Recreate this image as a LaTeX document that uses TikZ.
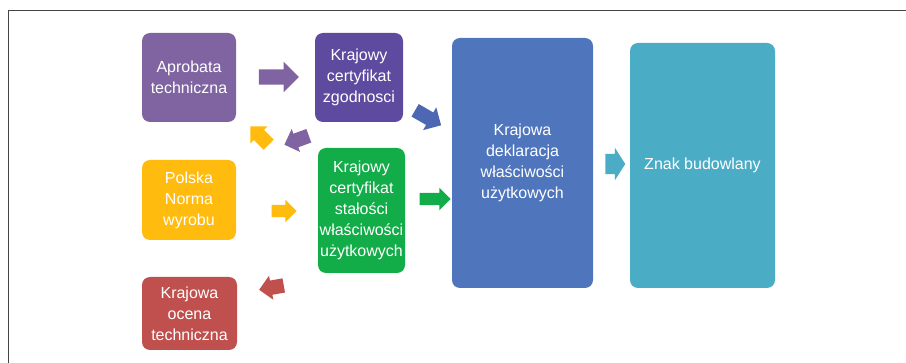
\documentclass[tikz,border=0pt]{standalone}
\usepackage{fontspec}
\setmainfont{Liberation Sans}
\usetikzlibrary{shapes.arrows}
\definecolor{cPurple}{HTML}{8064A2}
\definecolor{cIndigo}{HTML}{5E4B9F}
\definecolor{cYellow}{HTML}{FFBB0E}
\definecolor{cGreen}{HTML}{12AD48}
\definecolor{cRed}{HTML}{C0504D}
\definecolor{cBlue}{HTML}{4F76BD}
\definecolor{cArrBlue}{HTML}{4D67B3}
\definecolor{cTeal}{HTML}{4BACC6}
\definecolor{cFrame}{HTML}{444444}
\tikzset{
  boxnode/.style={rounded corners=8pt, draw=none, text=white, align=center,
    inner sep=0pt, font=\fontsize{16}{21}\selectfont},
  blockarrow/.style={single arrow, draw=none, inner xsep=0pt,
    text width=0pt, text height=0pt, text depth=0pt},
  framestyle/.style={draw=cFrame, line width=1.3pt}
}
\begin{document}
\begin{tikzpicture}[x=1pt,y=-1pt]
\useasboundingbox (0,0) rectangle (906,363);
% frame (top and left only)
\coordinate (f1) at (906,10.5);
\coordinate (f2) at (8.5,10.5);
\coordinate (f3) at (8.5,363);
\draw[framestyle] (f1) -- (f2) -- (f3);

% boxes
\node[boxnode, fill=cPurple, minimum width=94pt, minimum height=89pt] (ap) at (189,77.5) {Aprobata\\techniczna};
\node[boxnode, fill=cIndigo, minimum width=88pt, minimum height=89pt] (kz) at (359,77.5) {Krajowy\\certyfikat\\zgodnosci};
\node[boxnode, fill=cYellow, minimum width=94pt, minimum height=80pt] (pn) at (189,200) {Polska\\Norma\\wyrobu};
\node[boxnode, fill=cGreen, minimum width=87pt, minimum height=125pt] (ks) at (361.5,210.5) {Krajowy\\certyfikat\\stałości\\właściwości\\użytkowych};
\node[boxnode, fill=cRed, minimum width=95pt, minimum height=73pt] (ko) at (189.5,313.5) {Krajowa\\ocena\\techniczna};
\node[boxnode, fill=cBlue, minimum width=141pt, minimum height=250pt] (kd) at (522.5,163) {Krajowa\\deklaracja\\właściwości\\użytkowych};
\node[boxnode, fill=cTeal, minimum width=145pt, minimum height=245pt] (zb) at (702.5,165.5) {Znak budowlany};

% block arrows
\node[blockarrow, fill=cPurple, minimum height=40pt, inner ysep=7.5pt,
  single arrow head extend=7.5pt] (a1) at (275,77) {};
\node[blockarrow, fill=cArrBlue, rotate=-30, minimum height=30pt, inner ysep=7pt,
  single arrow head extend=6pt] (a2) at (425,116) {};
\node[blockarrow, fill=cYellow, rotate=135, minimum height=26pt, inner ysep=7pt,
  single arrow head extend=5pt] (a3) at (262,138) {};
\node[blockarrow, fill=cPurple, rotate=200, minimum height=26pt, inner ysep=7pt,
  single arrow head extend=5pt] (a4) at (300,139) {};
\node[blockarrow, fill=cYellow, minimum height=25pt, inner ysep=6pt,
  single arrow head extend=5pt] (a5) at (281,211) {};
\node[blockarrow, fill=cGreen, minimum height=31pt, inner ysep=6pt,
  single arrow head extend=5pt] (a6) at (432,199) {};
\node[blockarrow, fill=cRed, rotate=190, minimum height=25pt, inner ysep=7pt,
  single arrow head extend=5pt] (a7) at (275,287) {};
\node[blockarrow, fill=cTeal, minimum height=20pt, inner ysep=10pt,
  single arrow head extend=6pt, single arrow tip angle=115] (a8) at (612,164) {};
\end{tikzpicture}
\end{document}
